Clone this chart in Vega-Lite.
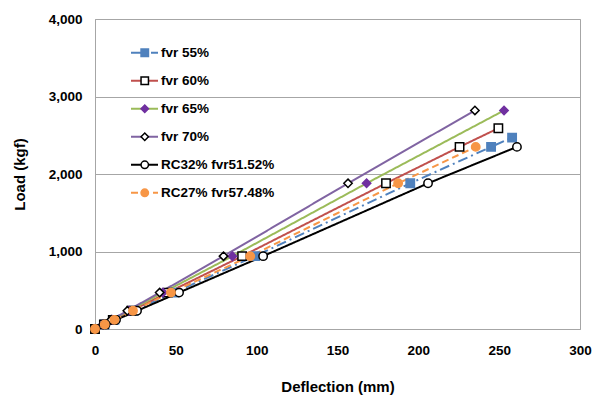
{
  "$schema": "https://vega.github.io/schema/vega-lite/v6.json",
  "width": 485,
  "height": 310,
  "autosize": "none",
  "padding": {"left": 95, "top": 19, "right": 25, "bottom": 67},
  "config": {
    "font": "Liberation Sans",
    "view": {"stroke": "#A6A6A6", "strokeWidth": 1},
    "axis": {
      "labelFont": "Liberation Sans", "labelFontWeight": "bold", "labelFontSize": 13.5, "labelColor": "#000000",
      "titleFont": "Liberation Sans", "titleFontWeight": "bold", "titleFontSize": 15, "titleColor": "#000000",
      "ticks": false, "tickSize": 0, "domainColor": "#A6A6A6", "gridColor": "#A6A6A6", "gridOpacity": 1, "labelFlush": false
    },
    "legend": {
      "labelFont": "Liberation Sans", "labelFontWeight": "bold", "labelFontSize": 13.5, "labelColor": "#000000",
      "padding": 0, "rowPadding": 0, "clipHeight": 27.6
    }
  },
  "data": {
    "values": [
      {"series": "fvr 55%", "defl": 0, "load": 0},
      {"series": "fvr 55%", "defl": 6, "load": 59},
      {"series": "fvr 55%", "defl": 12, "load": 118},
      {"series": "fvr 55%", "defl": 24, "load": 235},
      {"series": "fvr 55%", "defl": 49, "load": 470},
      {"series": "fvr 55%", "defl": 99, "load": 940},
      {"series": "fvr 55%", "defl": 195, "load": 1880},
      {"series": "fvr 55%", "defl": 245, "load": 2350},
      {"series": "fvr 55%", "defl": 258, "load": 2470},
      {"series": "fvr 60%", "defl": 0, "load": 0},
      {"series": "fvr 60%", "defl": 5.5, "load": 59},
      {"series": "fvr 60%", "defl": 11, "load": 118},
      {"series": "fvr 60%", "defl": 22.5, "load": 235},
      {"series": "fvr 60%", "defl": 45, "load": 470},
      {"series": "fvr 60%", "defl": 91, "load": 940},
      {"series": "fvr 60%", "defl": 180, "load": 1880},
      {"series": "fvr 60%", "defl": 225.5, "load": 2350},
      {"series": "fvr 60%", "defl": 249.5, "load": 2590},
      {"series": "fvr 65%", "defl": 0, "load": 0},
      {"series": "fvr 65%", "defl": 5, "load": 59},
      {"series": "fvr 65%", "defl": 10.5, "load": 118},
      {"series": "fvr 65%", "defl": 21, "load": 235},
      {"series": "fvr 65%", "defl": 42, "load": 470},
      {"series": "fvr 65%", "defl": 85, "load": 940},
      {"series": "fvr 65%", "defl": 168, "load": 1880},
      {"series": "fvr 65%", "defl": 253, "load": 2820},
      {"series": "fvr 70%", "defl": 0, "load": 0},
      {"series": "fvr 70%", "defl": 5, "load": 59},
      {"series": "fvr 70%", "defl": 10, "load": 118},
      {"series": "fvr 70%", "defl": 20, "load": 235},
      {"series": "fvr 70%", "defl": 40, "load": 470},
      {"series": "fvr 70%", "defl": 79.5, "load": 940},
      {"series": "fvr 70%", "defl": 156.5, "load": 1880},
      {"series": "fvr 70%", "defl": 235, "load": 2820},
      {"series": "RC32% fvr51.52%", "defl": 0, "load": 0},
      {"series": "RC32% fvr51.52%", "defl": 6.5, "load": 59},
      {"series": "RC32% fvr51.52%", "defl": 13, "load": 118},
      {"series": "RC32% fvr51.52%", "defl": 26, "load": 235},
      {"series": "RC32% fvr51.52%", "defl": 52, "load": 470},
      {"series": "RC32% fvr51.52%", "defl": 104, "load": 940},
      {"series": "RC32% fvr51.52%", "defl": 206, "load": 1880},
      {"series": "RC32% fvr51.52%", "defl": 261, "load": 2350},
      {"series": "RC27% fvr57.48%", "defl": 0, "load": 0},
      {"series": "RC27% fvr57.48%", "defl": 6, "load": 59},
      {"series": "RC27% fvr57.48%", "defl": 12, "load": 118},
      {"series": "RC27% fvr57.48%", "defl": 23.5, "load": 235},
      {"series": "RC27% fvr57.48%", "defl": 47, "load": 470},
      {"series": "RC27% fvr57.48%", "defl": 96, "load": 940},
      {"series": "RC27% fvr57.48%", "defl": 187.5, "load": 1880},
      {"series": "RC27% fvr57.48%", "defl": 235.5, "load": 2350}
    ]
  },
  "layer": [
    {
      "mark": {"type": "line", "strokeWidth": 2},
      "encoding": {
        "x": {"field": "defl", "type": "quantitative", "scale": {"domain": [0, 300], "nice": false},
              "axis": {"values": [0, 50, 100, 150, 200, 250, 300], "grid": false, "title": "Deflection (mm)", "labelPadding": 14, "titlePadding": 23}},
        "y": {"field": "load", "type": "quantitative", "scale": {"domain": [0, 4000], "nice": false},
              "axis": {"values": [0, 1000, 2000, 3000, 4000], "format": ",.0f", "grid": true, "title": "Load (kgf)", "labelPadding": 13, "titlePadding": 21}},
        "stroke": {"field": "series", "type": "nominal",
                   "scale": {"domain": ["fvr 55%", "fvr 60%", "fvr 65%", "fvr 70%", "RC32% fvr51.52%", "RC27% fvr57.48%"],
                             "range": ["#4F81BD", "#C0504D", "#9BBB59", "#8064A2", "#000000", "#F79646"]},
                   "legend": {"orient": "none", "legendX": 35, "legendY": 20, "title": null, "symbolType": "stroke", "symbolSize": 729, "symbolStrokeWidth": 2, "labelOffset": 2}},
        "strokeDash": {"field": "series", "type": "nominal",
                   "scale": {"domain": ["fvr 55%", "fvr 60%", "fvr 65%", "fvr 70%", "RC32% fvr51.52%", "RC27% fvr57.48%"],
                             "range": [[10, 4, 2, 4], [1, 0], [1, 0], [1, 0], [1, 0], [7, 4]]},
                   "legend": {"orient": "none", "legendX": 35, "legendY": 20, "title": null, "symbolType": "stroke", "symbolSize": 729, "symbolStrokeWidth": 2, "labelOffset": 2}},
        "order": {"field": "load", "type": "quantitative"}
      }
    },
    {
      "mark": {"type": "point", "strokeWidth": 1.5, "opacity": 1, "size": 70},
      "encoding": {
        "x": {"field": "defl", "type": "quantitative", "scale": {"domain": [0, 300], "nice": false}},
        "y": {"field": "load", "type": "quantitative", "scale": {"domain": [0, 4000], "nice": false}},
        "shape": {"field": "series", "type": "nominal",
                  "scale": {"domain": ["fvr 55%", "fvr 60%", "fvr 65%", "fvr 70%", "RC32% fvr51.52%", "RC27% fvr57.48%"],
                            "range": ["square", "square", "diamond", "diamond", "circle", "circle"]},
                  "legend": {"orient": "none", "legendX": 43, "legendY": 20, "title": null, "symbolSize": 55, "symbolStrokeWidth": 1.5, "labelExpr": "''"}},
        "fill": {"field": "series", "type": "nominal",
                 "scale": {"domain": ["fvr 55%", "fvr 60%", "fvr 65%", "fvr 70%", "RC32% fvr51.52%", "RC27% fvr57.48%"],
                           "range": ["#4F81BD", "#FFFFFF", "#7030A0", "#FFFFFF", "#FFFFFF", "#F79646"]},
                 "legend": {"orient": "none", "legendX": 43, "legendY": 20, "title": null, "symbolSize": 55, "symbolStrokeWidth": 1.5, "labelExpr": "''"}},
        "stroke": {"field": "series", "type": "nominal",
                   "scale": {"domain": ["fvr 55%", "fvr 60%", "fvr 65%", "fvr 70%", "RC32% fvr51.52%", "RC27% fvr57.48%"],
                             "range": ["#4F81BD", "#000000", "#7030A0", "#000000", "#000000", "#F79646"]},
                   "legend": {"orient": "none", "legendX": 43, "legendY": 20, "title": null, "symbolSize": 55, "symbolStrokeWidth": 1.5, "labelExpr": "''"}}
      }
    }
  ],
  "resolve": {
    "scale": {"stroke": "independent", "strokeDash": "independent", "fill": "independent", "shape": "independent"},
    "legend": {"stroke": "independent", "strokeDash": "independent", "fill": "independent", "shape": "independent"}
  }
}
